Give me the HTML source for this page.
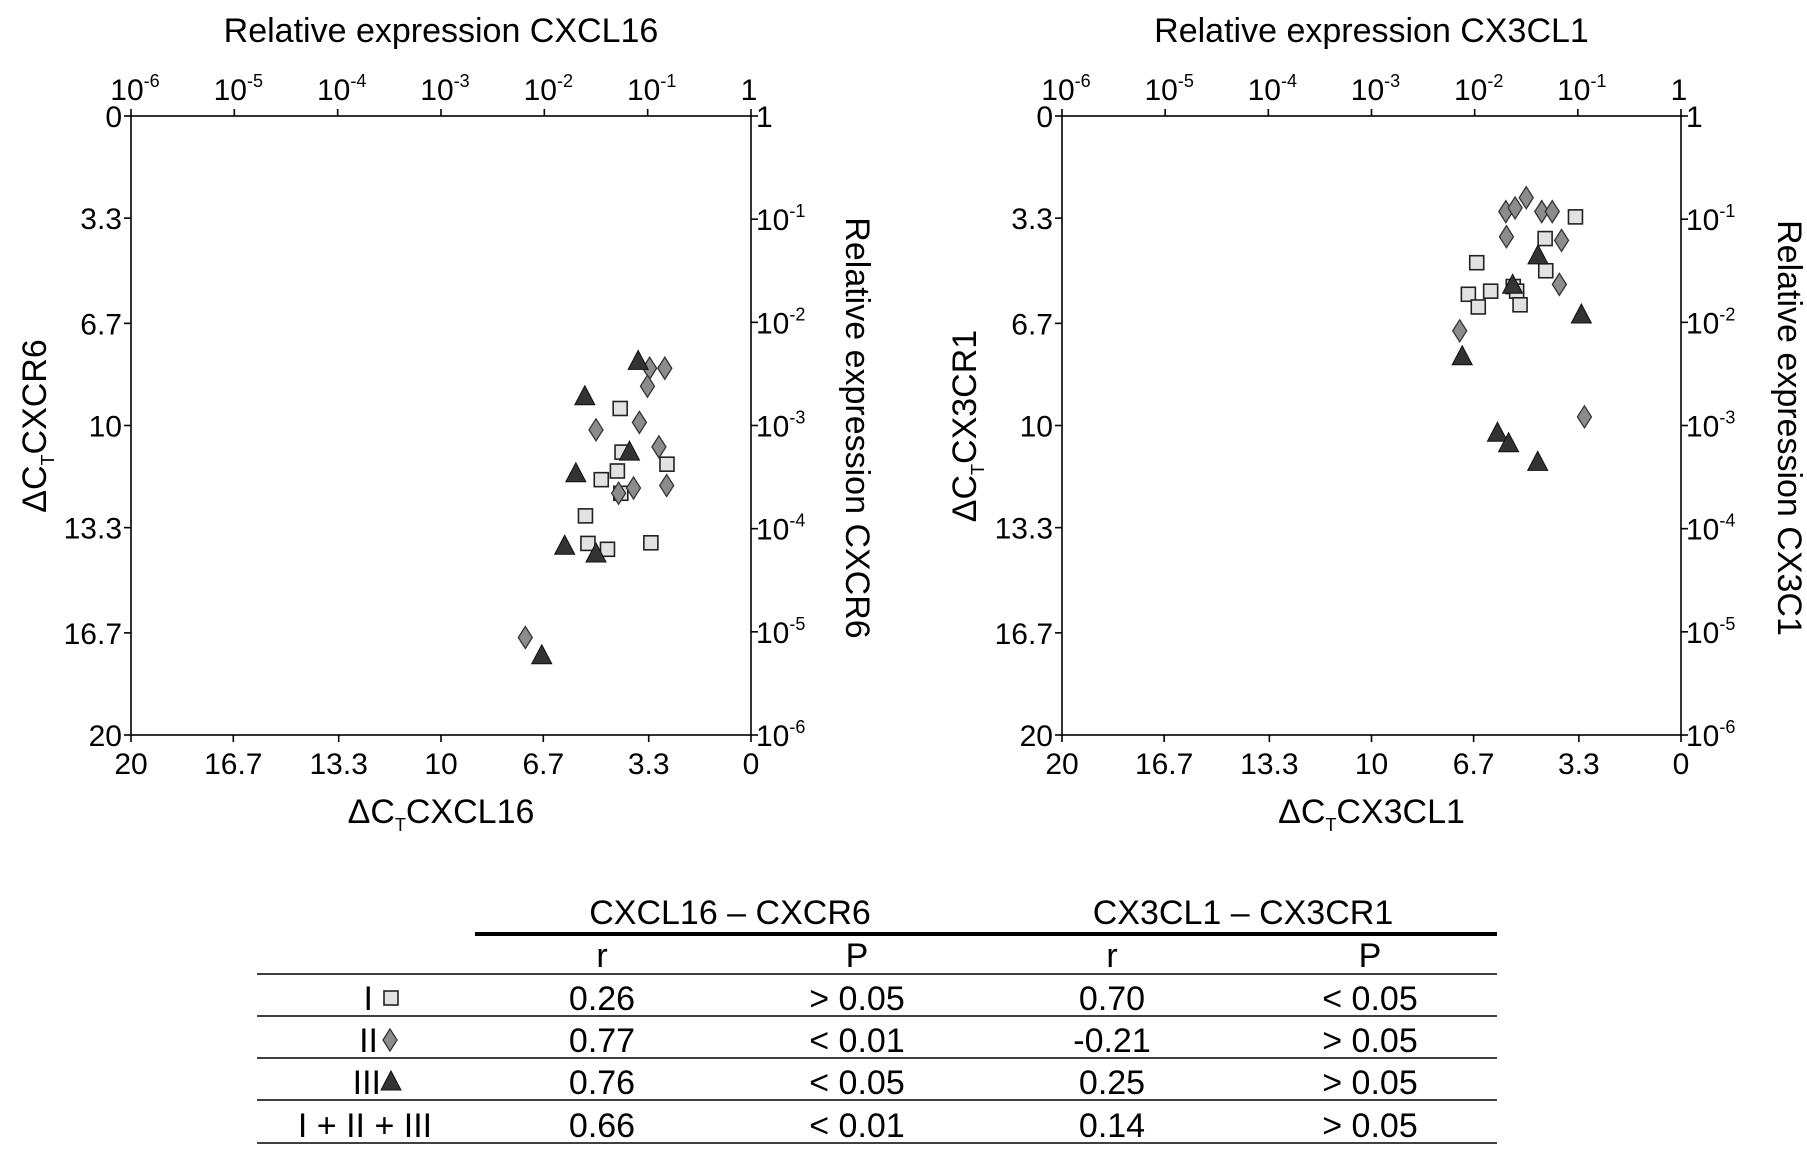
<!DOCTYPE html>
<html><head><meta charset="utf-8"><style>
html,body{margin:0;padding:0;background:#fff;}
svg{display:block;font-family:"Liberation Sans",Arial,sans-serif;}
</style></head><body>
<svg id="fig" width="1807" height="1163" viewBox="0 0 1807 1163"></svg>
<script>
// Left chart data (ΔCT values)
const leftSqX = [4.22,4.16,2.71,4.31,4.83,4.20,5.34,5.26,4.63,3.23];
const leftSqY = [9.45,10.86,11.25,11.47,11.75,12.19,12.92,13.81,14.0,13.79];
const leftDiX = [3.27,2.78,3.34,5.0,3.6,2.97,2.72,3.79,4.27,7.28];
const leftDiY = [8.15,8.15,8.73,10.14,9.9,10.69,11.94,12.02,12.19,16.85];
const leftTrX = [3.64,5.36,5.65,3.92,6.01,5.0,6.75];
const leftTrY = [7.93,9.07,11.56,10.86,13.9,14.15,17.44];
// Right chart data
const rightSqX = [3.41,4.39,6.6,4.37,5.42,6.87,6.15,5.31,6.55,5.2];
const rightSqY = [3.26,3.96,4.74,5.0,5.51,5.76,5.66,5.66,6.17,6.1];
const rightDiX = [5.66,5.36,5.0,4.5,4.16,5.64,3.86,3.93,7.15,3.12];
const rightDiY = [3.09,2.97,2.64,3.09,3.09,3.9,4.02,5.44,6.94,9.72];
const rightTrX = [4.62,5.44,3.22,7.07,5.93,5.57,4.63];
const rightTrY = [4.52,5.47,6.43,7.78,10.25,10.59,11.19];
const ctTicks = [0,3.3,6.7,10,13.3,16.7,20];
const ctLabels = ["0","3.3","6.7","10","13.3","16.7","20"];
const logExps = [-6,-5,-4,-3,-2,-1,0];

const NS="http://www.w3.org/2000/svg";
const svg=document.getElementById('fig');
function mk(tag,attrs,parent){const e=document.createElementNS(NS,tag);for(const k in attrs)e.setAttribute(k,attrs[k]);(parent||svg).appendChild(e);return e;}
function txt(x,y,s,size,anchor,parent,tr){const t=mk('text',{x:x,y:y,'font-size':size,'text-anchor':anchor||'middle',fill:'#000'},parent);if(tr)t.setAttribute('transform',tr);t.textContent=s;return t;}
function logLabel(g,x,y,e,anchor){
  const t=mk('text',{x:x,y:y,'font-size':30,'text-anchor':anchor,fill:'#000'},g);
  if(e===0){t.textContent='1';}else{
    const a=mk('tspan',{},t);a.textContent='10';
    const b=mk('tspan',{dy:-13,'font-size':18},t);b.textContent=String(e);
  }
  return t;
}
function marker(g,type,cx,cy,name){
  let el;
  if(type==='sq') el=mk('rect',{x:cx-7,y:cy-7,width:14,height:14,fill:'#e2e2e2',stroke:'#222','stroke-width':1.6},g);
  else if(type==='di') el=mk('polygon',{points:`${cx},${cy-11} ${cx+7},${cy} ${cx},${cy+11} ${cx-7},${cy}`,fill:'#8c8c8c',stroke:'#333','stroke-width':1.3},g);
  else el=mk('polygon',{points:`${cx},${cy-11} ${cx+10},${cy+8} ${cx-10},${cy+8}`,fill:'#333',stroke:'#111','stroke-width':1},g);
  
  
}
function chart(opt){
  const g=mk('g',{});
  
  
  const L=opt.L,R=opt.R,T=116,B=735;
  const sx=v=>L+(20-v)/20*(R-L);
  const sy=v=>T+v/20*(B-T);
  const axis=mk('rect',{x:L,y:T,width:R-L,height:B-T,fill:'none',stroke:'#000','stroke-width':1.6},g);
  
  
  ctTicks.forEach((v,i)=>{
    mk('line',{x1:L-7,x2:L,y1:sy(v),y2:sy(v),stroke:'#000','stroke-width':1.6},g);
    const yl=txt(L-9,sy(v)+11,ctLabels[i],30,'end',g);
    
    
    mk('line',{x1:sx(v),x2:sx(v),y1:B,y2:B+7,stroke:'#000','stroke-width':1.6},g);
    const xl=txt(sx(v),B+39,ctLabels[i],30,'middle',g);
    
    
  });
  logExps.forEach((e,i)=>{
    const x=L+i/6*(R-L), y=B-i/6*(B-T);
    mk('line',{x1:x,x2:x,y1:T-7,y2:T,stroke:'#000','stroke-width':1.6},g);
    const tl=logLabel(g,x+(e===0?-2:4),T-16,e,'middle');
    
    
    mk('line',{x1:R,x2:R+7,y1:y,y2:y,stroke:'#000','stroke-width':1.6},g);
    const rl=logLabel(g,R+5,y+11,e,'start');
    
    
  });
  const mid=(L+R)/2;
  const t1=txt(mid,42,opt.title,34,'middle',g);
  
  
  const xt=mk('text',{x:mid,y:823,'font-size':34,'text-anchor':'middle'},g);
  xt.innerHTML='ΔC<tspan font-size="18" dy="8">T</tspan><tspan dy="-8">'+opt.xlab+'</tspan>';
  
  
  const yt=mk('text',{x:0,y:0,'font-size':34,'text-anchor':'middle',transform:`translate(${opt.yx},426) rotate(-90)`},g);
  yt.innerHTML='ΔC<tspan font-size="18" dy="8">T</tspan><tspan dy="-8">'+opt.ylab+'</tspan>';
  
  
  const rt=txt(0,0,opt.rlab,34,'middle',g,`translate(${opt.rx},428) rotate(90)`);
  
  
  opt.sqX.forEach((v,i)=>marker(g,'sq',sx(v),sy(opt.sqY[i]),'point-group-i'));
  opt.diX.forEach((v,i)=>marker(g,'di',sx(v),sy(opt.diY[i]),'point-group-ii'));
  opt.trX.forEach((v,i)=>marker(g,'tr',sx(v),sy(opt.trY[i]),'point-group-iii'));
}
chart({name:'cxcl16-cxcr6-chart',L:131,R:751,title:'Relative expression CXCL16',xlab:'CXCL16',ylab:'CXCR6',rlab:'Relative expression CXCR6',yx:46,rx:846,
  sqX:leftSqX,sqY:leftSqY,diX:leftDiX,diY:leftDiY,trX:leftTrX,trY:leftTrY});
chart({name:'cx3cl1-cx3cr1-chart',L:1062,R:1681,title:'Relative expression CX3CL1',xlab:'CX3CL1',ylab:'CX3CR1',rlab:'Relative expression CX3C1',yx:976,rx:1778,
  sqX:rightSqX,sqY:rightSqY,diX:rightDiX,diY:rightDiY,trX:rightTrX,trY:rightTrY});

// Table
const tbl=mk('g',{});


mk('line',{x1:475,x2:1497,y1:934,y2:934,stroke:'#000','stroke-width':4},tbl);
[974,1016,1058,1100,1143].forEach(y=>mk('line',{x1:257,x2:1497,y1:y,y2:y,stroke:'#000','stroke-width':1.6},tbl));
const hdrA=txt(730,924,'CXCL16 – CXCR6',34,'middle',tbl);


const hdrB=txt(1243,924,'CX3CL1 – CX3CR1',34,'middle',tbl);


const cols=[602,857,1112,1370];
['r','P','r','P'].forEach((s,i)=>{const t=txt(cols[i],967,s,34,'middle',tbl);
  
  });
const rowLabels=['I','II','III','I + II + III'];
const rowData=[['0.26','> 0.05','0.70','< 0.05'],['0.77','< 0.01','-0.21','> 0.05'],['0.76','< 0.05','0.25','> 0.05'],['0.66','< 0.01','0.14','> 0.05']];
const rowBase=[1010,1052,1094,1137];
const mtypes=['sq','di','tr'];
const markX=[391,390,391];
const labelEnd=[373,378,381];
rowLabels.forEach((s,i)=>{
  const y=rowBase[i];
  if(i<3){
    const t=txt(labelEnd[i],y,s,34,'end',tbl);
    
    
    const m=mk('g',{},tbl);
    marker(m,mtypes[i],markX[i],y-12,'legend-marker');
  } else {
    const t=txt(365,y,s,34,'middle',tbl);
    
    
  }
  rowData[i].forEach((v,j)=>{const c=txt(cols[j],y,v,34,'middle',tbl);
    
    });
});
</script>
</body></html>
